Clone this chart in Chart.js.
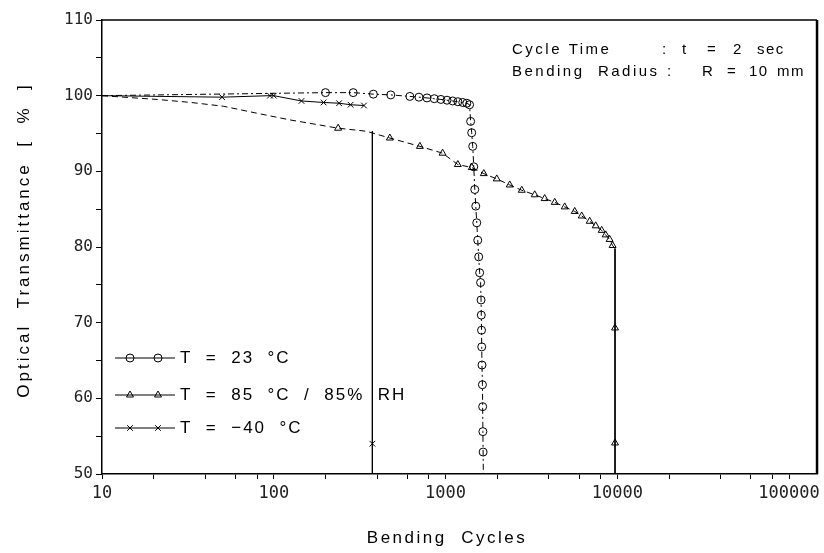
<!DOCTYPE html>
<html>
<head>
<meta charset="utf-8">
<script src="https://cdn.jsdelivr.net/npm/chart.js@4.4.0/dist/chart.umd.min.js"></script>
<style>
html,body{margin:0;padding:0;background:#fff;}
</style>
</head>
<body>
<canvas id="myChart" width="824" height="553"></canvas>
<script>
// bending cycles (x) and optical transmittance in % (y)
var circleX = [10,200,290,380,480,620,700,780,860,940,1020,1100,1180,1260,1330,1380,1400,1420,1440,1460,1480,1500,1520,1540,1560,1580,1600,1610,1615,1620,1625,1630,1640,1645,1650,1655,1660];
var circleY = [100,100.4,100.4,100.2,100.1,99.9,99.8,99.7,99.6,99.5,99.4,99.3,99.2,99.1,99.0,98.8,96.6,95.1,93.3,90.6,87.6,85.4,83.2,80.9,78.7,76.6,75.3,73.0,71.0,69.0,66.8,64.4,61.8,58.9,55.6,52.9,50];
var circleMark = [0,1,1,1,1,1,1,1,1,1,1,1,1,1,1,1,1,1,1,1,1,1,1,1,1,1,1,1,1,1,1,1,1,1,1,1,0];

var triX = [10,13.4,21,33,51,79,124,237,346,474,709,961,1179,1422,1670,1987,2365,2778,3305,3777,4322,4941,5650,6206,6906,7483,8110,8556,9023,9390,9700,9700,9700,9700];
var triY = [100,99.8,99.5,99.1,98.6,97.7,96.8,95.7,95.3,94.4,93.3,92.4,90.9,90.5,89.7,89.0,88.2,87.5,86.9,86.4,85.9,85.3,84.7,84.1,83.4,82.8,82.2,81.6,81.0,80.2,79.8,69.3,54.1,50];
var triMark = [0,0,0,0,0,0,0,1,0,1,1,1,1,1,1,1,1,1,1,1,1,1,1,1,1,1,1,1,1,1,0,1,1,0];

var crossX = [10,50,95,100,145,195,240,280,335,355,375,375,375];
var crossY = [100,99.8,100.0,100.0,99.3,99.1,99.0,98.8,98.7,null,95.3,54,50];
var crossMark = [0,1,1,1,1,1,1,1,1,0,0,1,0];

var xTicks = [10,20,40,60,80,100,200,400,600,800,1000,2000,4000,6000,8000,10000,20000,40000,60000,80000,100000];
var xLabels = [10,100,1000,10000,100000];
var yTicks = [50,55,60,65,70,75,80,85,90,95,100,105,110];
var yLabels = [50,60,70,80,90,100,110];

var seriesNames = ["T  =  23  °C", "T  =  85  °C  /  85%  RH", "T  =  −40  °C"];
var xTitle = "Bending  Cycles";
var yTitle = "Optical  Transmittance  [  %  ]";
var noteRows = [["Cycle Time", ":", "t", "=", "2", "sec"], ["Bending  Radius", ":", "R", "=", "10", "mm"]];

function pts(xs, ys, ms){
  var out = [];
  for(var i = 0;i < xs.length;i++){
    out.push({x: xs[i], y: ys[i], m: ms[i]});
  }
  return out;
}
function markRadius(c){ return (c.raw && c.raw.m) ? 4 : 0; }

var frame = {
  id: 'frame',
  afterDraw: function(chart){
    var ctx = chart.ctx, a = chart.chartArea;
    ctx.save();
    ctx.strokeStyle = '#000';
    ctx.lineWidth = 1.5;
    ctx.beginPath();
    ctx.moveTo(a.left, a.top); ctx.lineTo(a.right, a.top);
    ctx.stroke();
    ctx.lineWidth = 2.5;
    ctx.beginPath();
    ctx.moveTo(a.right, a.top); ctx.lineTo(a.right, a.bottom);
    ctx.stroke();

    // legend rows inside the plot
    var rowsY = [358, 395, 428];
    var ds = chart.data.datasets;
    for(var i = 0;i < 3;i++){
      var y = rowsY[i];
      ctx.lineWidth = 1;
      ctx.setLineDash([]);
      ctx.beginPath();
      ctx.moveTo(115, y); ctx.lineTo(175, y);
      ctx.stroke();
      ctx.fillStyle = 'rgba(0,0,0,0)';
      [130, 158].forEach(function(px){
        Chart.helpers.drawPoint(ctx, {pointStyle: ds[i].pointStyle, radius: 4, borderWidth: 1, rotation: 0}, px, y);
      });
      ctx.fillStyle = '#000';
      ctx.font = '17px "Liberation Sans"';
      ctx.letterSpacing = '2px';
      ctx.textBaseline = 'middle';
      ctx.textAlign = 'left';
      ctx.fillText(seriesNames[i], 180, y);
    }

    // notes top right
    var noteX = [[512, 662, 682, 707, 733, 757], [512, 667, 702, 727, 749, 777]];
    var noteY = [50, 72];
    ctx.font = '15px "Liberation Sans"';
    for(var r = 0;r < 2;r++){
      for(var k = 0;k < noteRows[r].length;k++){
        ctx.letterSpacing = k == 0 ? '2.5px' : '1.5px';
        ctx.fillText(noteRows[r][k], noteX[r][k], noteY[r]);
      }
    }

    // axis titles
    ctx.font = '17px "Liberation Sans"';
    ctx.letterSpacing = '2.5px';
    ctx.textAlign = 'center';
    ctx.fillText(xTitle, 447, 538);
    ctx.translate(24, 240);
    ctx.rotate(-Math.PI / 2);
    ctx.letterSpacing = '3px';
    ctx.fillText(yTitle, 0, 0);
    ctx.letterSpacing = '0px';
    ctx.restore();
  }
};

var ctx = document.getElementById('myChart').getContext('2d');
var chart = new Chart(ctx, {
  type: 'scatter',
  data: {
    datasets: [{
      label: seriesNames[0],
      data: pts(circleX, circleY, circleMark),
      showLine: true,
      borderColor: '#000',
      borderWidth: 1,
      borderDash: [6, 3, 2, 3],
      pointStyle: 'circle',
      pointRadius: markRadius,
      pointBorderColor: '#000',
      pointBackgroundColor: 'rgba(0,0,0,0)',
      pointBorderWidth: 1
    }, {
      label: seriesNames[1],
      data: pts(triX, triY, triMark),
      showLine: true,
      borderColor: '#000',
      borderWidth: 1,
      segment: {
        borderDash: function(c){ return Math.abs(c.p0.x - c.p1.x) < 1 ? [] : [6, 4]; }
      },
      pointStyle: 'triangle',
      pointRadius: markRadius,
      pointBorderColor: '#000',
      pointBackgroundColor: 'rgba(0,0,0,0)',
      pointBorderWidth: 1
    }, {
      label: seriesNames[2],
      data: pts(crossX, crossY, crossMark),
      showLine: true,
      spanGaps: false,
      borderColor: '#000',
      borderWidth: 1,
      pointStyle: 'crossRot',
      pointRadius: markRadius,
      pointBorderColor: '#000',
      pointBorderWidth: 1
    }]
  },
  options: {
    responsive: false,
    animation: false,
    devicePixelRatio: 1,
    layout: {padding: {left: 0, right: 6, top: 20, bottom: 0}},
    plugins: {legend: {display: false}, tooltip: {enabled: false}},
    scales: {
      x: {
        type: 'logarithmic',
        min: 10,
        max: 145500,
        afterBuildTicks: function(s){ s.ticks = xTicks.map(function(v){ return {value: v}; }); },
        afterFit: function(s){ s.height = 79; },
        ticks: {
          autoSkip: false, maxRotation: 0, padding: 4, color: '#222',
          font: {family: '"DejaVu Sans Mono"', size: 17},
          callback: function(v){ return xLabels.indexOf(v) >= 0 ? String(v) : ''; }
        },
        grid: {drawOnChartArea: false, drawTicks: true, tickLength: 5, color: '#000'},
        border: {display: true, color: '#000', width: 1.5}
      },
      y: {
        min: 50,
        max: 110,
        afterBuildTicks: function(s){ s.ticks = yTicks.map(function(v){ return {value: v}; }); },
        afterFit: function(s){ s.width = 102; },
        ticks: {
          autoSkip: false, padding: 3, color: '#222',
          font: {family: '"DejaVu Sans Mono"', size: 16},
          callback: function(v){ return yLabels.indexOf(v) >= 0 ? String(v) : ''; }
        },
        grid: {drawOnChartArea: false, drawTicks: true, tickLength: 6, color: '#000'},
        border: {display: true, color: '#000', width: 1.5}
      }
    }
  },
  plugins: [frame]
});
</script>
</body>
</html>
